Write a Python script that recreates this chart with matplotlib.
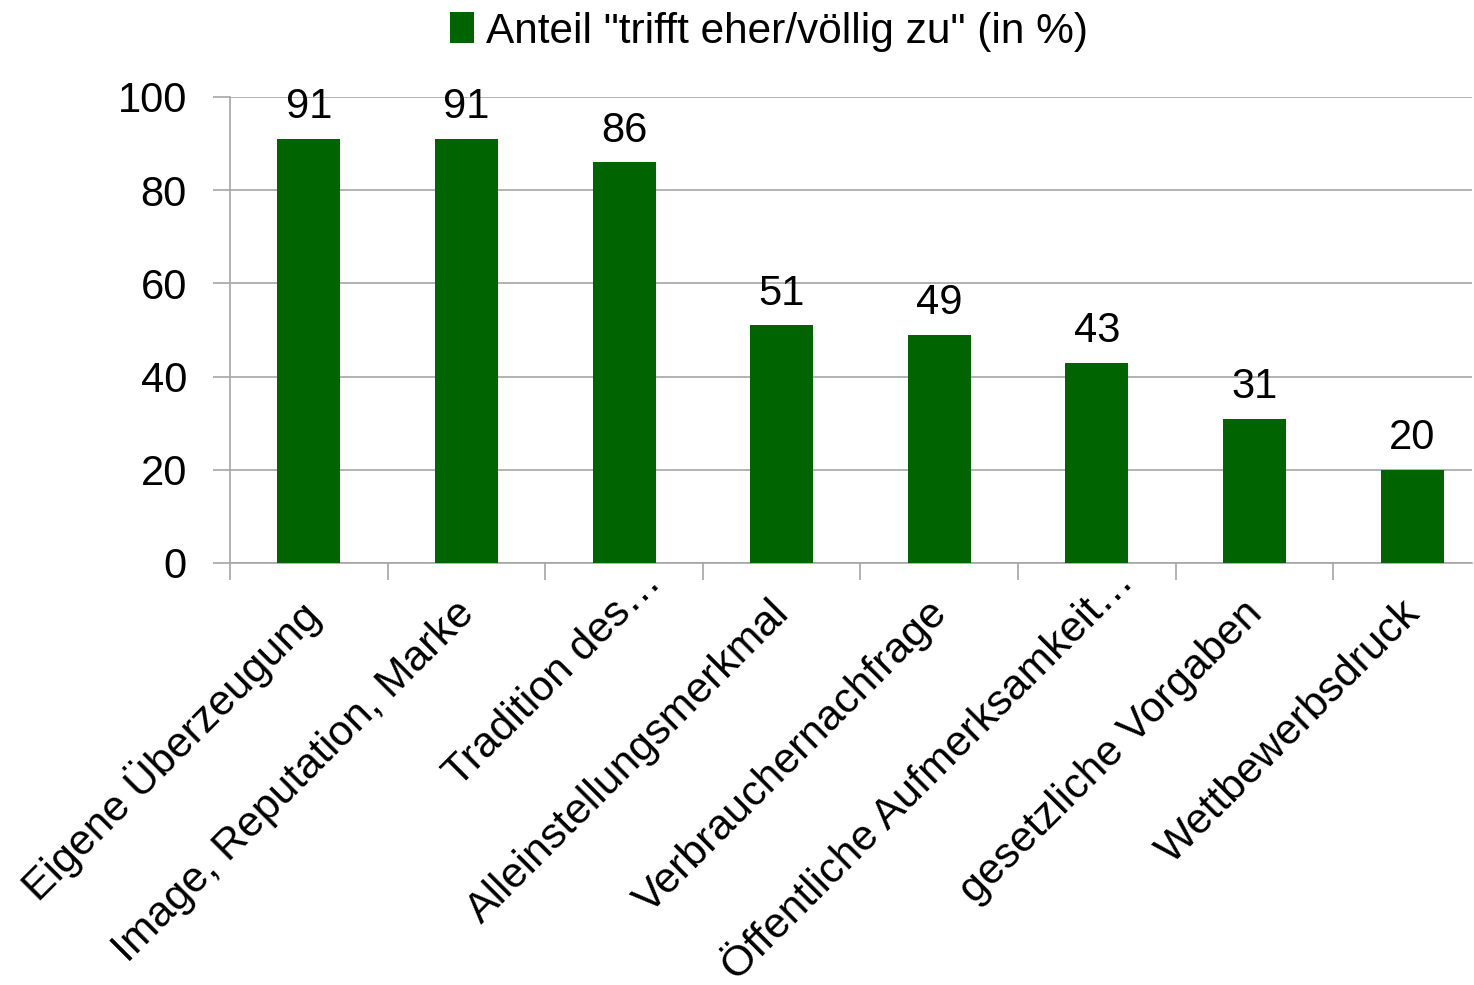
import numpy as np
import matplotlib.pyplot as plt
import matplotlib.transforms as mtrans
from matplotlib.patches import Patch

categories = ['Eigene Überzeugung', 'Image, Reputation, Marke', 'Tradition des…',
              'Alleinstellungsmerkmal', 'Verbrauchernachfrage',
              'Öffentliche Aufmerksamkeit…', 'gesetzliche Vorgaben',
              'Wettbewerbsdruck']
values = [91, 91, 86, 51, 49, 43, 31, 20]
series_name = 'Anteil "trifft eher/völlig zu" (in %)'

plt.rcParams['font.family'] = ['Liberation Sans', 'DejaVu Sans']
fs = 30
grid_col = '#a6a6a6'

fig = plt.figure(figsize=(14.74, 9.85), dpi=100)
ax = fig.add_axes([230 / 1474, 422 / 985, 1242 / 1474, 466 / 985])

x = np.arange(len(categories))
bars = ax.bar(x, values, width=0.4, color='#006400', zorder=3)
for b, v in zip(bars, values):
    ax.text(b.get_x() + b.get_width() / 2, v + 2.5, str(v), ha='center',
            va='bottom', fontsize=fs, color='black')

ax.set_yticks(range(0, 101, 20))
ax.set_xticks(np.arange(len(categories)) - 0.5)
ax.set_xticklabels([])
ax.set_ylim(0, 100)
ax.set_xlim(-0.5, 7.38)

# category labels, truncated ones overhang with their ellipsis
for xi, lab in zip(x, categories):
    dx, dy = -0.12, -0.30
    if lab.endswith('…'):
        dx, dy = dx + 0.29, dy + 0.31
    off = mtrans.ScaledTranslation(dx, dy, fig.dpi_scale_trans)
    ax.text(xi, 0, lab, rotation=45, ha='right', va='top',
            rotation_mode='anchor', fontsize=30.8,
            transform=ax.get_xaxis_transform() + off)

ax.tick_params(axis='x', length=12, color=grid_col, width=1.2)
ax.tick_params(axis='y', length=12, color=grid_col, width=1.2,
               labelsize=fs, pad=19)

ax.grid(axis='y', color=grid_col, linewidth=1.2, zorder=0)
for s in ['top', 'right']:
    ax.spines[s].set_visible(False)
for s in ['left', 'bottom']:
    ax.spines[s].set_color(grid_col)
    ax.spines[s].set_linewidth(1.2)

handle = Patch(facecolor='#006400', label=series_name)
fig.legend(handles=[handle], loc='upper center', bbox_to_anchor=(0.522, 1.027),
           frameon=False, fontsize=30.5, handlelength=0.55, handleheight=0.75,
           handletextpad=0.3)

fig.savefig('out.png', dpi=100)
